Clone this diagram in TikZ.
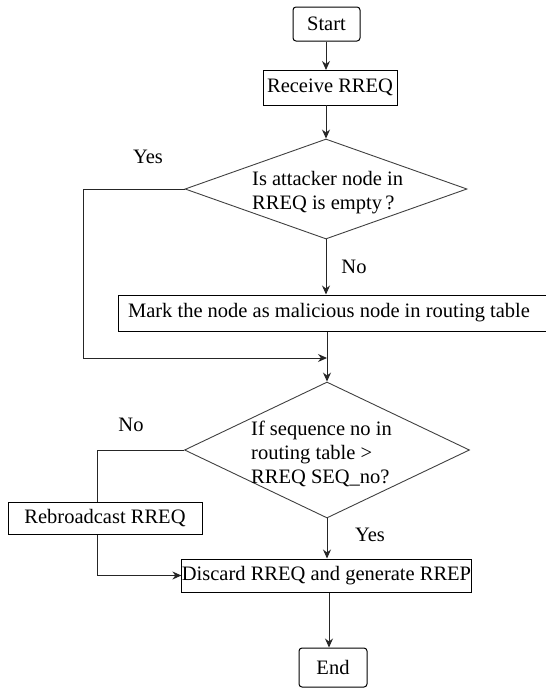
\documentclass[tikz,border=0pt]{standalone}
\usepackage{fontspec}
\setmainfont{Liberation Serif}
\usetikzlibrary{shapes.geometric,arrows.meta}
\begin{document}
\begin{tikzpicture}[x=1pt,y=-1pt,
  every node/.style={font=\fontsize{20.5}{24}\selectfont, text=black},
  box/.style={draw=black, line width=1pt, inner sep=0pt, minimum height=34pt},
  rbox/.style={box, rounded corners=3pt},
  dia/.style={draw=black!75, line width=0.9pt, diamond, inner sep=0pt},
  txt/.style={inner sep=0pt, align=left},
  con/.style={draw=black!85, line width=1pt},
  arr/.style={con, -{Stealth[length=9pt,width=8pt]}}
]
\useasboundingbox (0,0) rectangle (546,688);

\node[rbox, minimum width=67pt] (start) at (326.5,24) {Start};
\node[box, minimum width=134pt, minimum height=35pt] (recv) at (330,87.5) {Receive RREQ};
\node[dia, minimum width=282pt, minimum height=100pt] (d1) at (326,189) {};
\node[txt, anchor=west] (t1) at (252,193) {Is attacker node in\\RREQ is empty\,?};
\node[box, minimum width=430pt, minimum height=36pt] (mark) at (333,313) {Mark the node as malicious node in routing table\hspace*{8pt}};
\coordinate (j1) at (327,358);
\node[dia, minimum width=285pt, minimum height=136pt] (d2) at (327,450) {};
\node[txt, anchor=west] (t2) at (251,454) {If sequence no in\\routing table >\\RREQ SEQ\_no?};
\node[box, minimum width=194pt, minimum height=32pt] (rb) at (105,518) {Rebroadcast RREQ};
\node[box, minimum width=281pt, minimum height=33pt] (disc) at (326.5,575.5) {Discard RREQ and generate RREP};
\node[rbox, minimum width=68pt, minimum height=39pt] (end) at (333,667.5) {End};

\node[txt] (yes1) at (148,157) {Yes};
\node[txt] (no1) at (354,267) {No};
\node[txt] (no2) at (131,425) {No};
\node[txt] (yes2) at (370,535) {Yes};

\coordinate (c1) at (83,189);
\coordinate (c2) at (97,450);

\draw[arr] (start.south -| 326,0) -- (326,70);
\draw[arr] (326,105) -- (d1.north);
\draw[arr] (d1.south) -- (mark.north -| d1.south);
\draw[con] (d1.west) -- (c1) -- (c1 |- j1);
\draw[arr] (c1 |- j1) -- (j1);
\draw[arr] (mark.south -| d2.north) -- (d2.north);
\draw[con] (d2.west) -- (c2) -- (c2 |- rb.north);
\draw[arr] (c2 |- rb.south) -- (c2 |- disc.west) -- (disc.west);
\draw[arr] (d2.south) -- (disc.north -| d2.south);
\draw[arr] (disc.south -| 329,0) -- (end.north -| 329,0);
\end{tikzpicture}
\end{document}
